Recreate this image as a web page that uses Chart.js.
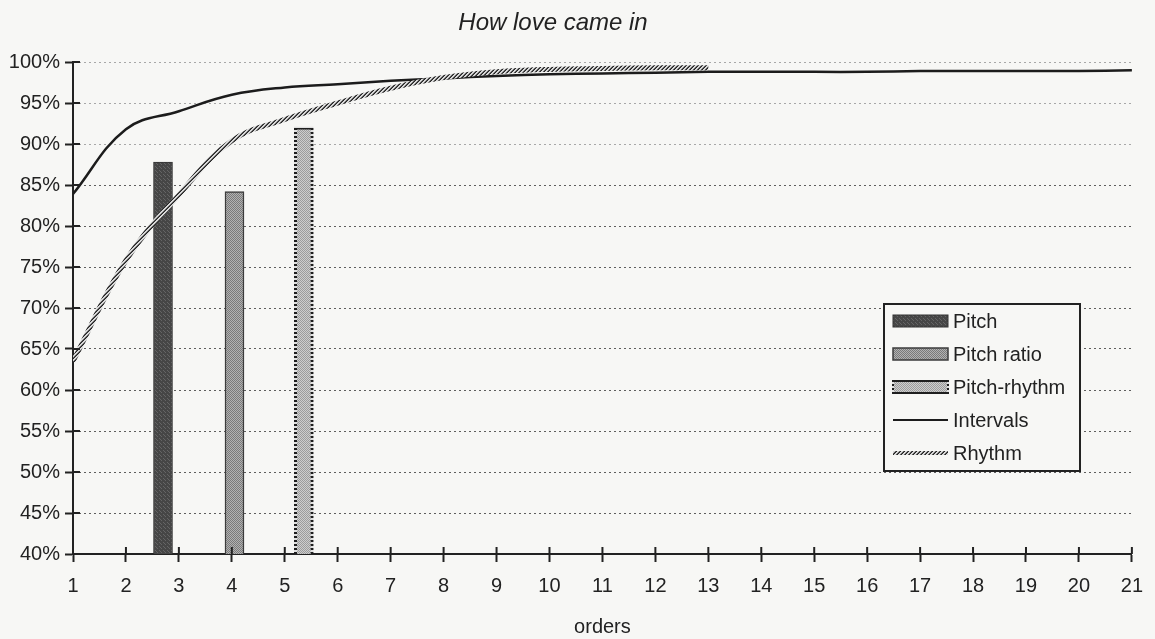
<!DOCTYPE html>
<html>
<head>
<meta charset="utf-8">
<title>How love came in</title>
<script src="https://cdn.jsdelivr.net/npm/chart.js@4.4.1/dist/chart.umd.min.js"></script>
<style>
  html, body { margin: 0; padding: 0; background: #f7f7f5; }
  #wrap { width: 1155px; height: 639px; position: relative; }
</style>
</head>
<body>
<div id="wrap"><canvas id="loveChart"></canvas></div>
<script>
// orders on the x axis
const orders = [1, 2, 3, 4, 5, 6, 7, 8, 9, 10, 11, 12, 13, 14, 15, 16, 17, 18, 19, 20, 21];
const intervals = [83.9, 91.8, 94.0, 96.0, 96.9, 97.3, 97.7, 98.0, 98.3, 98.5, 98.6,
                   98.7, 98.8, 98.8, 98.8, 98.8, 98.9, 98.9, 98.9, 98.9, 99.0];

const rhythmOrders = [1, 2, 3, 4, 5, 6, 7, 8, 9, 10, 11, 12, 13];
const rhythm = [63.5, 75.8, 83.8, 90.4, 93.0, 95.0, 96.8, 98.1, 98.8, 99.1, 99.2, 99.3, 99.3];

// the three single bars
const barNames = ["Pitch", "Pitch ratio", "Pitch-rhythm"];
const barOrders = [2.7, 4.05, 5.36];
const barValues = [87.8, 84.2, 92.1];

const yTicks = { min: 40, max: 100, step: 5 };

const INK = "#222";
const FONT = "'Liberation Sans', Arial, sans-serif";

const canvas = document.getElementById("loveChart");
const mainCtx = canvas.getContext("2d");

function makePattern(size, draw) {
  const c = document.createElement("canvas");
  c.width = size;
  c.height = size;
  draw(c.getContext("2d"), size);
  return mainCtx.createPattern(c, "repeat");
}

const pitchFill = makePattern(4, (g) => {
  g.fillStyle = "#464646"; g.fillRect(0, 0, 4, 4);
  g.fillStyle = "#656565"; g.fillRect(1, 0, 1, 1); g.fillRect(3, 2, 1, 1); g.fillRect(0, 3, 1, 1);
});
const ratioFill = makePattern(2, (g) => {
  g.fillStyle = "#b2b2b2"; g.fillRect(0, 0, 2, 2);
  g.fillStyle = "#7a7a7a"; g.fillRect(0, 0, 1, 1); g.fillRect(1, 1, 1, 1);
});
const prFill = makePattern(2, (g) => {
  g.fillStyle = "#cdcdcd"; g.fillRect(0, 0, 2, 2);
  g.fillStyle = "#9c9c9c"; g.fillRect(0, 0, 1, 1); g.fillRect(1, 1, 1, 1);
});
const prBorder = makePattern(4, (g) => {
  g.fillStyle = "#e0e0e0"; g.fillRect(0, 0, 4, 4);
  g.fillStyle = "#1e1e1e"; g.fillRect(0, 0, 4, 2);
});
const rhythmStroke = makePattern(4, (g) => {
  g.fillStyle = "#d8d8d8"; g.fillRect(0, 0, 4, 4);
  g.fillStyle = "#262626";
  g.fillRect(3, 0, 1, 1); g.fillRect(2, 1, 1, 1); g.fillRect(1, 2, 1, 1); g.fillRect(0, 3, 1, 1);
  g.fillStyle = "#5a5a5a";
  g.fillRect(2, 0, 1, 1); g.fillRect(1, 1, 1, 1); g.fillRect(0, 2, 1, 1); g.fillRect(3, 3, 1, 1);
});

const barStyles = [
  { backgroundColor: pitchFill, borderColor: "#333", borderWidth: 1 },
  { backgroundColor: ratioFill, borderColor: "#3c3c3c", borderWidth: 1.5 },
  { backgroundColor: prFill, borderColor: prBorder, borderWidth: 3 },
];

const barSets = barNames.map((name, i) => ({
  type: "bar",
  label: name,
  data: [{ x: barOrders[i], y: barValues[i] }],
  barThickness: 19,
  grouped: false,
  borderSkipped: "bottom",
  order: 2,
  clip: 0,
  ...barStyles[i],
}));

// title drawn a little left of centre, as in the scan
const titlePlugin = {
  id: "titleText",
  afterDraw(chart) {
    const ctx = chart.ctx;
    ctx.save();
    ctx.font = "italic 24px " + FONT;
    ctx.fillStyle = INK;
    ctx.textAlign = "center";
    ctx.textBaseline = "middle";
    ctx.fillText("How love came in", 553, 23);
    ctx.restore();
  },
};

// tick marks that cross the axis lines
const crossTicks = {
  id: "crossTicks",
  afterDatasetsDraw(chart) {
    const { ctx, chartArea, scales } = chart;
    ctx.save();
    ctx.strokeStyle = INK;
    ctx.lineWidth = 2;
    ctx.beginPath();
    scales.x.ticks.forEach((t) => {
      const px = scales.x.getPixelForValue(t.value);
      ctx.moveTo(px, chartArea.bottom);
      ctx.lineTo(px, chartArea.bottom - 7);
    });
    scales.y.ticks.forEach((t) => {
      const py = scales.y.getPixelForValue(t.value);
      ctx.moveTo(chartArea.left, py);
      ctx.lineTo(chartArea.left + 7, py);
    });
    ctx.stroke();
    ctx.restore();
  },
};

// boxed legend inside the plot, like the spreadsheet one
const boxLegend = {
  id: "boxLegend",
  afterDraw(chart) {
    const ctx = chart.ctx;
    const box = { x: 884, y: 304, w: 196, h: 167 };
    ctx.save();
    ctx.fillStyle = "#f7f7f5";
    ctx.fillRect(box.x, box.y, box.w, box.h);
    ctx.strokeStyle = INK;
    ctx.lineWidth = 2;
    ctx.strokeRect(box.x, box.y, box.w, box.h);

    const sets = chart.data.datasets;
    const step = 33;
    ctx.font = "20px " + FONT;
    ctx.textBaseline = "middle";
    ctx.textAlign = "left";
    sets.forEach((ds, i) => {
      const cy = box.y + 17 + i * step;
      const sx = box.x + 9;
      const sw = 55;
      if (ds.type === "bar") {
        ctx.fillStyle = ds.backgroundColor;
        ctx.fillRect(sx, cy - 6, sw, 12);
        ctx.strokeStyle = ds.borderColor;
        ctx.lineWidth = Math.min(ds.borderWidth, 2);
        ctx.strokeRect(sx, cy - 6, sw, 12);
      } else {
        ctx.strokeStyle = ds.borderColor;
        ctx.lineWidth = ds.label === "Rhythm" ? 4 : 2;
        ctx.beginPath();
        ctx.moveTo(sx, cy);
        ctx.lineTo(sx + sw, cy);
        ctx.stroke();
      }
      ctx.fillStyle = INK;
      ctx.fillText(ds.label, sx + sw + 5, cy + 1);
    });
    ctx.restore();
  },
};

new Chart(mainCtx, {
  type: "line",
  data: {
    datasets: [
      ...barSets,
      {
        type: "line",
        label: "Intervals",
        data: orders.map((o, i) => ({ x: o, y: intervals[i] })),
        borderColor: "#1c1c1c",
        borderWidth: 2.5,
        pointRadius: 0,
        tension: 0.4,
        order: 1,
      },
      {
        type: "line",
        label: "Rhythm",
        data: rhythmOrders.map((o, i) => ({ x: o, y: rhythm[i] })),
        borderColor: rhythmStroke,
        borderWidth: 5,
        pointRadius: 0,
        tension: 0.4,
        order: 0,
      },
    ],
  },
  options: {
    responsive: true,
    maintainAspectRatio: false,
    animation: false,
    events: [],
    layout: { padding: { top: 62, left: 0, right: 15, bottom: 0 } },
    plugins: {
      legend: { display: false },
      tooltip: { enabled: false },
      title: { display: false },
    },
    scales: {
      x: {
        type: "linear",
        min: orders[0],
        max: orders[orders.length - 1],
        offset: false,
        ticks: {
          stepSize: 1,
          autoSkip: false,
          maxRotation: 0,
          padding: 12,
          color: INK,
          font: { family: FONT, size: 20 },
        },
        grid: { offset: false, drawOnChartArea: false, tickLength: 8, tickColor: INK, tickWidth: 2 },
        border: { color: INK, width: 2 },
        title: {
          display: true,
          text: "orders",
          color: INK,
          font: { family: FONT, size: 20 },
          padding: { top: 0, bottom: 0 },
        },
        afterFit(scale) { scale.height = 85; },
      },
      y: {
        min: yTicks.min,
        max: yTicks.max,
        ticks: {
          stepSize: yTicks.step,
          padding: 5,
          color: INK,
          font: { family: FONT, size: 20 },
          callback: (v) => v + "%",
        },
        grid: {
          color: (c) => (c.tick && c.tick.value >= 90 ? "#a8a8a8" : "#5e5e5e"),
          lineWidth: 1,
          tickLength: 8,
          tickColor: INK,
          tickWidth: 2,
        },
        border: { color: INK, width: 2, dash: [2, 3] },
        afterFit(scale) { scale.width = 73; },
      },
    },
  },
  plugins: [titlePlugin, crossTicks, boxLegend],
});
</script>
</body>
</html>
